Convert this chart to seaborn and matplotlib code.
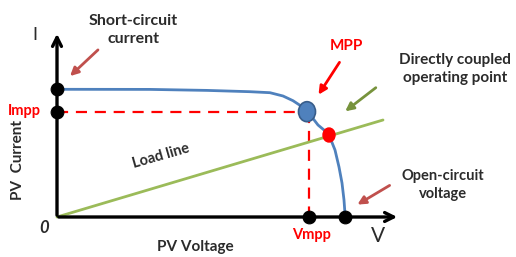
import matplotlib
matplotlib.use("Agg")
import matplotlib.pyplot as plt
from matplotlib.patches import Ellipse
import pandas as pd
import seaborn as sns

# I-V curve of the PV module (arbitrary units)
iv_voltage = [0, 93, 150, 193, 213, 226, 236, 244, 250, 256, 261, 267, 272, 278, 282, 285, 287, 288, 288]
iv_current = [127.7, 127.6, 126.6, 125.3, 124.3, 121, 116.3, 111, 105.3, 98.5, 92, 87, 82, 67, 50, 34, 17, 6, 0]

# resistive load line through the origin
load_voltage = [0, 326]
load_current = [0, 97]

isc = 127.7
voc = 288
v_mpp = 252
i_mpp = 105
mpp = (250, 105.3)
op_point = (272, 82)

sns.set_style("white")
plt.rcParams["font.family"] = ["Lato", "DejaVu Sans"]

fig = plt.figure(figsize=(5.16, 2.57), dpi=100)
ax = fig.add_axes([0, 0, 1, 1])
ax.set_xlim(-57, 459)
ax.set_ylim(-40, 217)
ax.axis("off")

blue = "#4F81BD"
green = "#9BBB59"
red = "#FF0000"
brown = "#C0504D"
txt = "#2B2B2B"

# axes drawn as arrows
ax.annotate("", xy=(0, 186), xytext=(0, -1),
            arrowprops=dict(arrowstyle="->", lw=2.4, color="black", mutation_scale=16))
ax.annotate("", xy=(343, 0), xytext=(-1, 0),
            arrowprops=dict(arrowstyle="->", lw=2.4, color="black", mutation_scale=16))

# dashed guides to the MPP
ax.plot([0, mpp[0]], [i_mpp, i_mpp], color=red, lw=1.6, dashes=(5, 3.5))
ax.plot([v_mpp, v_mpp], [i_mpp, 0], color=red, lw=1.6, dashes=(5, 3.5))

iv = pd.DataFrame({"V": iv_voltage, "I": iv_current})
load = pd.DataFrame({"V": load_voltage, "I": load_current})
sns.lineplot(data=load, x="V", y="I", ax=ax, color=green, lw=2, sort=False)
sns.lineplot(data=iv, x="V", y="I", ax=ax, color=blue, lw=2, sort=False)

ax.add_patch(Ellipse(mpp, 17, 20, facecolor=blue, edgecolor="#385D8A", lw=1.2, zorder=5))

dots = pd.DataFrame({"V": [0, 0, v_mpp, voc], "I": [isc, i_mpp, 0, 0]})
sns.scatterplot(data=dots, x="V", y="I", ax=ax, color="black", s=85,
                edgecolor="black", zorder=6)
ax.add_patch(Ellipse(op_point, 12, 14, facecolor=red, edgecolor=red, zorder=6))

# labels
ax.text(-22, 182, "I", fontsize=13, color=txt, ha="center", va="center")
ax.text(321, -19, "V", fontsize=15, color=txt, ha="center", va="center")
ax.text(-13, -11, "0", fontsize=12, style="italic", fontweight="bold", color=txt,
        ha="center", va="center")
ax.text(-39, 57, "PV  Current", fontsize=11, fontweight="bold", color=txt,
        rotation=90, ha="center", va="center")
ax.text(138, -30, "PV Voltage", fontsize=11, fontweight="bold", color=txt,
        ha="center", va="center")
ax.text(104, 61, "Load line", fontsize=10.5, fontweight="bold", color=txt,
        rotation=16, ha="center", va="center")
ax.text(-33, 106, "Impp", fontsize=10.5, fontweight="bold", color=red,
        ha="center", va="center")
ax.text(255, -18, "Vmpp", fontsize=10.5, fontweight="bold", color=red,
        ha="center", va="center")
ax.text(289, 171, "MPP", fontsize=11, fontweight="bold", color=red,
        ha="center", va="center")
ax.text(76, 187, "Short-circuit\ncurrent", fontsize=11.5, fontweight="bold", color=txt,
        ha="center", va="center", linespacing=1.4)
ax.text(398, 148, "Directly coupled\noperating point", fontsize=11, fontweight="bold",
        color=txt, ha="center", va="center", linespacing=1.4)
ax.text(386, 32, "Open-circuit\nvoltage", fontsize=10.5, fontweight="bold", color=txt,
        ha="center", va="center", linespacing=1.4)

# pointer arrows
arrow_kw = dict(arrowstyle="-|>", lw=2, mutation_scale=12)
ax.annotate("", xy=(11, 139), xytext=(43, 169), arrowprops=dict(color=brown, **arrow_kw))
ax.annotate("", xy=(260, 120), xytext=(284, 157), arrowprops=dict(color=red, **arrow_kw))
ax.annotate("", xy=(286, 104), xytext=(321, 131), arrowprops=dict(color="#77933C", **arrow_kw))
ax.annotate("", xy=(298, 11), xytext=(335, 33), arrowprops=dict(color=brown, **arrow_kw))

fig.savefig("out.png", dpi=100)
